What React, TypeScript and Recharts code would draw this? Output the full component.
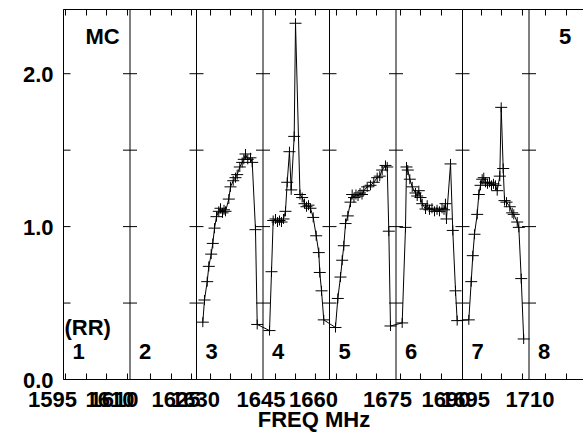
import React from 'react';
import {
  ComposedChart,
  Line,
  Scatter,
  XAxis,
  YAxis,
  ReferenceLine,
} from 'recharts';

// x is measured in panel widths from the left axis (panel n spans n-1 .. n)
const panel3X = [2.095, 2.12, 2.161, 2.185, 2.221, 2.245, 2.271, 2.301, 2.335, 2.361, 2.391, 2.414, 2.436, 2.486, 2.511, 2.552, 2.586, 2.612, 2.651, 2.687, 2.711, 2.737, 2.771, 2.812, 2.838, 2.887, 2.913];
const panel3Y = [0.375, 0.52, 0.64, 0.74, 0.82, 0.89, 0.99, 1.065, 1.1, 1.12, 1.09, 1.11, 1.1, 1.18, 1.26, 1.3, 1.32, 1.34, 1.39, 1.42, 1.44, 1.475, 1.44, 1.45, 1.42, 0.98, 0.36];

const panel4X = [3.098, 3.128, 3.153, 3.188, 3.218, 3.248, 3.278, 3.308, 3.338, 3.364, 3.398, 3.424, 3.469, 3.489, 3.556, 3.589, 3.624, 3.654, 3.684, 3.714, 3.755, 3.8, 3.839, 3.854, 3.88, 3.914];
const panel4Y = [0.32, 0.705, 1.04, 1.05, 1.03, 1.04, 1.03, 1.05, 1.1, 1.29, 1.49, 1.24, 1.59, 2.33, 1.21, 1.19, 1.15, 1.13, 1.14, 1.12, 1.06, 0.94, 0.83, 0.7, 0.58, 0.39];

const panel5X = [4.09, 4.125, 4.165, 4.191, 4.215, 4.241, 4.275, 4.316, 4.341, 4.368, 4.398, 4.429, 4.459, 4.489, 4.516, 4.567, 4.617, 4.666, 4.717, 4.756, 4.792, 4.842, 4.868, 4.892, 4.917];
const panel5Y = [0.34, 0.53, 0.67, 0.78, 0.875, 1.02, 1.07, 1.16, 1.21, 1.19, 1.21, 1.2, 1.22, 1.21, 1.235, 1.26, 1.27, 1.29, 1.32, 1.33, 1.37, 1.4, 1.39, 0.97, 0.35];

const panel6X = [5.093, 5.143, 5.158, 5.177, 5.208, 5.244, 5.293, 5.319, 5.343, 5.368, 5.394, 5.444, 5.469, 5.504, 5.541, 5.579, 5.617, 5.654, 5.692, 5.722, 5.744, 5.759, 5.82, 5.854, 5.895, 5.92];
const panel6Y = [0.37, 0.995, 1.39, 1.37, 1.31, 1.26, 1.22, 1.2, 1.235, 1.19, 1.15, 1.115, 1.14, 1.11, 1.12, 1.1, 1.11, 1.1, 1.12, 1.11, 1.15, 1.05, 1.41, 0.975, 0.58, 0.385];

const panel7X = [6.095, 6.131, 6.155, 6.18, 6.221, 6.245, 6.271, 6.296, 6.32, 6.346, 6.376, 6.406, 6.436, 6.466, 6.496, 6.522, 6.561, 6.582, 6.612, 6.632, 6.662, 6.711, 6.747, 6.771, 6.823, 6.847, 6.883, 6.92];
const panel7Y = [0.39, 0.64, 0.81, 0.95, 1.08, 1.21, 1.27, 1.31, 1.32, 1.29, 1.28, 1.29, 1.27, 1.28, 1.27, 1.235, 1.33, 1.78, 1.38, 1.17, 1.16, 1.13, 1.09, 1.08, 1.03, 0.995, 0.66, 0.265];

// panel boundaries and their numbers
const panelEdges = [0, 1, 2, 3, 4, 5, 6, 7];
const panelNames = ['1', '2', '3', '4', '5', '6', '7', '8'];
const topNotes = ['MC', '', '', '', '', '', '', '5'];
const bottomNotes = ['(RR)', '', '', '', '', '', '', ''];

// frequency labels, each attached to a panel boundary
const freqLabels = ['1595', '1610', '1610', '1625', '1630', '1645', '1660', '1675', '1690', '1695', '1710'];
const freqLabelEdge = [0, 1, 1, 2, 2, 3, 4, 5, 6, 6, 7];

const minorTicks = [0.03, 0.346, 0.647, 0.962, 1.308, 1.624, 1.925, 2.211, 2.511, 2.827, 3.188, 3.489, 3.789, 4.105, 4.406, 4.707, 5.068, 5.368, 5.684, 6.0, 6.286, 6.586, 6.902, 7.248, 7.564, 7.865, 8.18];

const yTicks = [0, 0.5, 1, 1.5, 2];
const yTickLabels = ['0.0', '', '1.0', '', '2.0'];
const crossLevels = [0.5, 1, 1.5, 2];

// layout only: horizontal nudges of the overlapping frequency labels
const labelShift = [-11, -20, -16, -20.5, -1, -2, -16, -8.5, -16.5, 3, 1];
const topNoteShift = [22, 0, 0, 0, 0, 0, 0, 30];

const spectrum = [
  [panel3X, panel3Y],
  [panel4X, panel4Y],
  [panel5X, panel5Y],
  [panel6X, panel6Y],
  [panel7X, panel7Y],
].flatMap(([xs, ys]) => xs.map((x, i) => ({ x, y: ys[i] })));

const crossPoints = panelEdges
  .filter((e) => e > 0)
  .flatMap((e) => crossLevels.map((y) => ({ x: e, y })));

const bottomTicks = Array.from(new Set([...minorTicks, ...panelEdges])).sort((a, b) => a - b);

const FONT = '"Liberation Sans", Arial, Helvetica, sans-serif';
const textStyle = { fontFamily: FONT, fontWeight: 700, fontSize: 22, fill: '#000' };

const PlusDot = (props: any) => {
  const { cx, cy } = props;
  if (cx == null || cy == null) return <g />;
  return (
    <path
      d={`M${cx - 6},${cy}H${cx + 6}M${cx},${cy - 5}V${cy + 5}`}
      stroke="#000"
      strokeWidth={1}
      fill="none"
    />
  );
};

const EdgeCross = (props: any) => (
  <line x1={props.cx - 7} x2={props.cx + 7} y1={props.cy} y2={props.cy} stroke="#000" strokeWidth={1} />
);

const BottomTick = (props: any) => {
  const { x, y, payload } = props;
  const v = payload.value;
  return (
    <g>
      {minorTicks.includes(v) && <line x1={x} x2={x} y1={y} y2={y - 6} stroke="#000" />}
      {freqLabels.map((t, i) =>
        freqLabelEdge[i] === v ? (
          <text key={i} x={x + labelShift[i]} y={y + 27} textAnchor="middle" {...textStyle}>
            {t}
          </text>
        ) : null
      )}
    </g>
  );
};

const TopTick = (props: any) => {
  const { x, y } = props;
  return <line x1={x} x2={x} y1={y} y2={y + 6} stroke="#000" />;
};

const LeftTick = (props: any) => {
  const { x, y, payload } = props;
  const idx = yTicks.indexOf(payload.value);
  const label = idx >= 0 ? yTickLabels[idx] : '';
  return (
    <g>
      {payload.value > 0 && <line x1={x} x2={x + 7} y1={y} y2={y} stroke="#000" />}
      {label && (
        <text x={x - 10} y={y + 8} textAnchor="end" {...textStyle}>
          {label}
        </text>
      )}
    </g>
  );
};

const PanelLabel = (props: any) => {
  const { viewBox, idx } = props;
  const { x, y, height } = viewBox;
  return (
    <g>
      <text x={x + 9} y={y + height - 21} {...textStyle}>
        {panelNames[idx]}
      </text>
      {bottomNotes[idx] && (
        <text x={x + 1} y={y + height - 45} {...textStyle}>
          {bottomNotes[idx]}
        </text>
      )}
      {topNotes[idx] && (
        <text x={x + topNoteShift[idx]} y={y + 34} {...textStyle}>
          {topNotes[idx]}
        </text>
      )}
    </g>
  );
};

const XTitle = (props: any) => {
  const { viewBox } = props;
  return (
    <text x={viewBox.x + 250.5} y={viewBox.y + 47.5} textAnchor="middle" {...textStyle}>
      FREQ MHz
    </text>
  );
};

export default function App() {
  return (
    <div
      style={{
        position: 'fixed',
        left: 0,
        top: 0,
        width: 583,
        height: 434,
        overflow: 'hidden',
        background: '#fff',
      }}
    >
      <ComposedChart width={640} height={434} margin={{ top: 0, right: 11.25, bottom: 0, left: 3.5 }}>
        <XAxis
          dataKey="x"
          type="number"
          domain={[0, 8.5]}
          allowDataOverflow
          ticks={bottomTicks}
          interval={0}
          tickSize={0}
          tickMargin={0}
          tickLine={false}
          tick={BottomTick}
          axisLine={{ stroke: '#000' }}
          height={54.5}
          label={<XTitle />}
        />
        <XAxis
          xAxisId="top"
          orientation="top"
          dataKey="x"
          type="number"
          domain={[0, 8.5]}
          allowDataOverflow
          ticks={minorTicks}
          interval={0}
          tickSize={0}
          tickMargin={0}
          tickLine={false}
          tick={TopTick}
          axisLine={{ stroke: '#000' }}
          height={9.5}
        />
        <YAxis
          dataKey="y"
          type="number"
          domain={[0, 2.42]}
          allowDataOverflow
          ticks={yTicks}
          interval={0}
          tickSize={0}
          tickMargin={0}
          tickLine={false}
          tick={LeftTick}
          axisLine={{ stroke: '#000' }}
          width={60}
        />
        {panelEdges.map((e, i) => (
          <ReferenceLine
            key={e}
            x={e}
            stroke="#000"
            strokeWidth={1}
            label={<PanelLabel idx={i} />}
          />
        ))}
        <Scatter data={crossPoints} dataKey="y" shape={EdgeCross} isAnimationActive={false} />
        <Line
          data={spectrum}
          dataKey="y"
          type="linear"
          stroke="#000"
          strokeWidth={1}
          dot={PlusDot}
          activeDot={false}
          isAnimationActive={false}
        />
      </ComposedChart>
    </div>
  );
}
